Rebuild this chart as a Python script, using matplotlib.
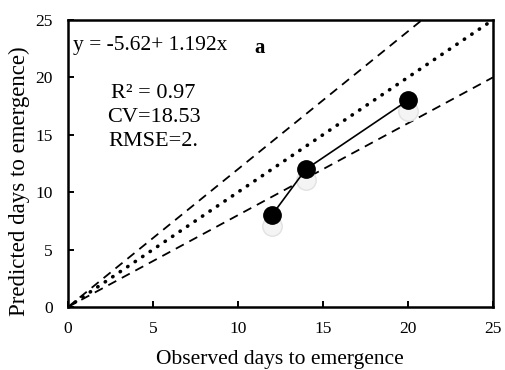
import numpy as np
import matplotlib.pyplot as plt

plt.rcParams['font.family'] = ['Liberation Serif', 'DejaVu Serif']

# observed vs predicted days to emergence
observed = [12, 14, 20]
predicted = [8, 12, 18]

# reference lines: 1:1 and +/-20 %
x_ref = np.array([0, 25])
slope_hi = 1.2
slope_lo = 0.8

fig, ax = plt.subplots(figsize=(5.06, 3.70), dpi=100)
fig.subplots_adjust(left=0.134, right=0.974, top=0.946, bottom=0.17)

ax.plot(x_ref, x_ref, color='black', linestyle=(0, (0.1, 2.4)), linewidth=2.6,
        dash_capstyle='round')
ax.plot(x_ref, slope_hi * x_ref, color='black', linestyle=(0, (5, 3.5)), linewidth=1.3)
ax.plot(x_ref, slope_lo * x_ref, color='black', linestyle=(0, (5, 3.5)), linewidth=1.3)

# faint shadow under markers
ax.plot(observed, [p - 0.9 for p in predicted], 'o', color='#f4f4f4', markersize=14,
        markeredgecolor='#e2e2e2', markeredgewidth=1.0, linestyle='none', zorder=2)
ax.plot(observed, predicted, color='black', linewidth=1.2, marker='o', markersize=12.5, zorder=3)

ax.text(0.3, 22.8, 'y = -5.62+ 1.192x', fontsize=15.5, va='center')
ax.text(11.0, 22.6, 'a', fontsize=15, fontweight='bold', va='center')
ax.text(5.05, 18.6, 'R² = 0.97', fontsize=16, ha='center', va='center')
ax.text(5.05, 16.5, 'CV=18.53', fontsize=16, ha='center', va='center')
ax.text(5.05, 14.4, 'RMSE=2.', fontsize=16, ha='center', va='center')

ax.set_xlim(0, 25)
ax.set_ylim(0, 25)
ax.set_xticks(range(0, 26, 5))
ax.set_yticks(range(0, 26, 5))
ax.tick_params(axis='x', direction='in', length=4, width=1.4, labelsize=12.5, pad=10)
ax.tick_params(axis='y', direction='in', length=4, width=1.4, labelsize=12.5, pad=11)
for s in ax.spines.values():
    s.set_linewidth(1.8)

ax.set_xlabel('Observed days to emergence', fontsize=15.5)
ax.set_ylabel('Predicted days to emergence)', fontsize=16.5)
ax.xaxis.set_label_coords(0.5, -0.15)
ax.yaxis.set_label_coords(-0.088, 0.44)

fig.savefig('out.png', dpi=100)
